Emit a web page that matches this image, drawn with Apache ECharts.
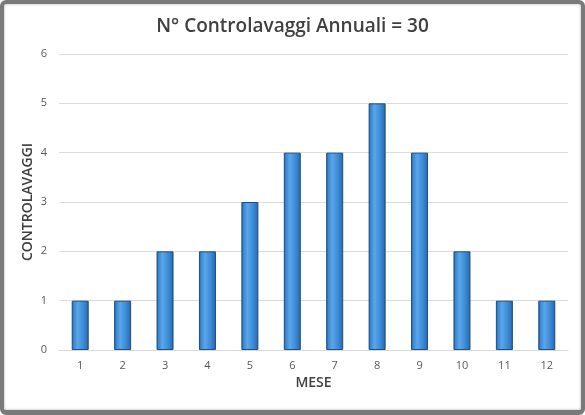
<!DOCTYPE html>
<html><head><meta charset="utf-8">
<script src="https://cdn.jsdelivr.net/npm/echarts@6/dist/echarts.min.js"></script>
<style>
html,body{margin:0;padding:0;background:#fff;}
#c{position:absolute;left:0;top:0;width:585px;height:415px;}
#frame{position:absolute;left:0;top:0;width:585px;height:415px;box-sizing:border-box;border:4px solid #7a7a7a;border-bottom-width:5px;border-radius:6px;pointer-events:none;box-shadow:inset 0 0 3px rgba(0,0,0,0.3);}
</style></head>
<body>
<div id="c"></div><div id="frame"></div>
<script>
const titleText = "N° Controlavaggi Annuali = 30";
const months = ["1","2","3","4","5","6","7","8","9","10","11","12"];
const counts = [1,1,2,2,3,4,4,5,4,2,1,1];
const yName = "CONTROLAVAGGI";
const xName = "MESE";

const chart = echarts.init(document.getElementById('c'));
const barColor = new echarts.graphic.LinearGradient(0,0,1,0,[
  {offset:0,color:'#215e9e'},
  {offset:0.12,color:'#3a86d0'},
  {offset:0.35,color:'#5aa6ea'},
  {offset:0.7,color:'#3b8ad6'},
  {offset:0.9,color:'#2e73ba'},
  {offset:1,color:'#1d5590'}
]);
chart.setOption({
  animation:false,
  backgroundColor:'#ffffff',
  title:{text:titleText,left:'center',top:12,textStyle:{fontFamily:'Open Sans',fontSize:19,fontWeight:600,color:'#404040'}},
  grid:{left:59,right:17,top:54,bottom:65},
  xAxis:{type:'category',data:months,name:xName,nameLocation:'middle',nameGap:26,nameMoveOverlap:false,
    nameTextStyle:{fontFamily:'Open Sans',fontSize:14,fontWeight:600,color:'#404040'},
    axisLine:{lineStyle:{color:'#d9d9d9'}},axisTick:{show:false},
    axisLabel:{color:'#595959',fontFamily:'Open Sans',fontSize:11,margin:10}},
  yAxis:{type:'value',min:0,max:6,interval:1,name:yName,nameLocation:'middle',nameGap:24,nameMoveOverlap:false,
    nameTextStyle:{fontFamily:'Open Sans',fontSize:14,fontWeight:600,color:'#404040'},
    axisLine:{show:false},axisTick:{show:false},
    splitLine:{lineStyle:{color:'#dcdcdc'}},
    axisLabel:{color:'#595959',fontFamily:'Open Sans',fontSize:11,margin:12}},
  series:[{type:'bar',data:counts,barWidth:17,
    itemStyle:{color:barColor,borderColor:'#1f4f80',borderWidth:1}}]
});
</script>
</body></html>
